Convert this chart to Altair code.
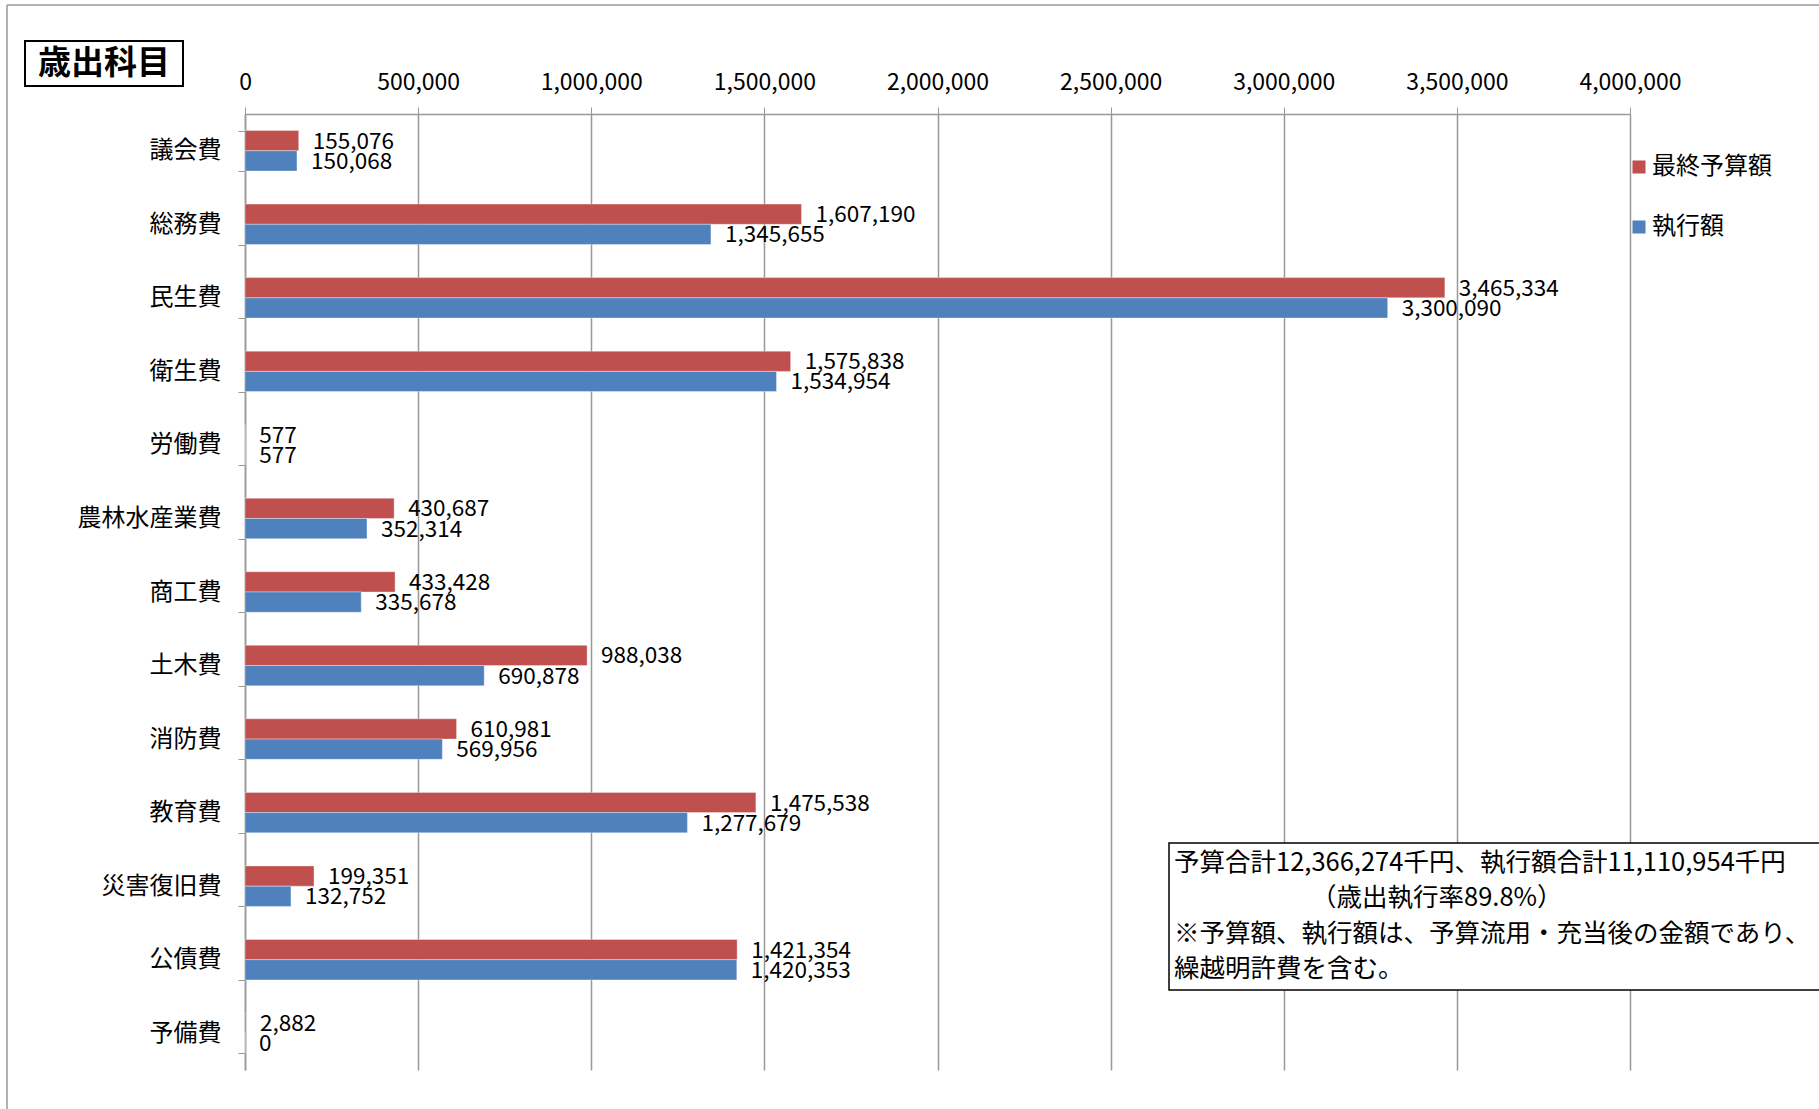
import altair as alt
import pandas as pd

categories = ["議会費", "総務費", "民生費", "衛生費", "労働費", "農林水産業費", "商工費",
              "土木費", "消防費", "教育費", "災害復旧費", "公債費", "予備費"]
budget = [155076, 1607190, 3465334, 1575838, 577, 430687, 433428,
          988038, 610981, 1475538, 199351, 1421354, 2882]
executed = [150068, 1345655, 3300090, 1534954, 577, 352314, 335678,
            690878, 569956, 1277679, 132752, 1420353, 0]
series = ["最終予算額", "執行額"]
colors = ["#C0504D", "#4F81BD"]
x_ticks = [0, 500000, 1000000, 1500000, 2000000, 2500000, 3000000, 3500000, 4000000]
chart_title = "歳出科目"
note_lines = [
    "予算合計12,366,274千円、執行額合計11,110,954千円",
    "（歳出執行率89.8%）",
    "※予算額、執行額は、予算流用・充当後の金額であり、",
    "繰越明許費を含む。",
]

FONT = "Noto Sans CJK JP"

rows = []
for c, b, e in zip(categories, budget, executed):
    rows.append({"cat": c, "series": series[0], "value": b})
    rows.append({"cat": c, "series": series[1], "value": e})
df = pd.DataFrame(rows)

base = alt.Chart(df)

y_enc = alt.Y("cat:N", sort=categories,
              scale=alt.Scale(paddingInner=0.45, paddingOuter=0.225),
              axis=alt.Axis(title=None, labelFont=FONT, labelFontSize=24, labelColor="#000",
                            labelPadding=17, tickBand="extent", tickSize=7,
                            tickColor="#999", domainColor="#999", domainWidth=1.5))
yoff = alt.YOffset("series:N", sort=series)

bars = base.mark_bar(stroke="white", strokeOpacity=0.35, strokeWidth=1).encode(
    x=alt.X("value:Q", scale=alt.Scale(domain=[0, 4000000], nice=False),
            axis=alt.Axis(orient="top", title=None, values=x_ticks, format=",d",
                          grid=True, gridColor="#999", gridWidth=1.5,
                          domainColor="#999", domainWidth=1.5, tickColor="#999",
                          tickSize=7, labelFont=FONT, labelFontSize=23,
                          labelColor="#000", labelPadding=13, labelFlush=False,
                          labelOverlap=False)),
    y=y_enc,
    yOffset=yoff,
    color=alt.Color("series:N", sort=series,
                    scale=alt.Scale(domain=series, range=colors),
                    legend=alt.Legend(title=None, orient="none", legendX=1382, legendY=41,
                                      symbolType="square", symbolSize=170,
                                      symbolStrokeWidth=0, labelFont=FONT,
                                      labelFontSize=24, labelColor="#000",
                                      rowPadding=36, labelOffset=1)),
)

labels = base.mark_text(align="left", baseline="middle", dx=14, dy=1, font=FONT,
                        fontSize=22.5, color="#000").encode(
    x="value:Q",
    y=alt.Y("cat:N", sort=categories),
    yOffset=yoff,
    text=alt.Text("value:Q", format=","),
)

dummy = pd.DataFrame({"t": [chart_title]})

# outer frame lines
frame_left = alt.Chart(dummy).mark_rule(color="#999", strokeWidth=1.5).encode(
    x=alt.value(-238), y=alt.value(-109), y2=alt.value(1000))
frame_top = alt.Chart(dummy).mark_rule(color="#999", strokeWidth=1.5).encode(
    x=alt.value(-238), x2=alt.value(1600), y=alt.value(-109))

# title box
title_box = alt.Chart(dummy).mark_rect(fill="white", stroke="#000", strokeWidth=2).encode(
    x=alt.value(-220), x2=alt.value(-62), y=alt.value(-73), y2=alt.value(-28))
title_text = alt.Chart(dummy).mark_text(font=FONT, fontSize=33, fontWeight="bold",
                                        color="#000", align="center", baseline="middle").encode(
    x=alt.value(-141), y=alt.value(-50), text="t:N")

# note box
note_box = alt.Chart(dummy).mark_rect(fill="white", stroke="#000", strokeWidth=1.5).encode(
    x=alt.value(924), x2=alt.value(1600), y=alt.value(729), y2=alt.value(876))
note_layers = []
note_x = [929, 1066, 929, 929]
note_y = [749, 784, 820, 855]
for line, nx, ny in zip(note_lines, note_x, note_y):
    note_layers.append(
        alt.Chart(pd.DataFrame({"t": [line]})).mark_text(
            font=FONT, fontSize=25.5, color="#000", align="left", baseline="middle").encode(
            x=alt.value(nx), y=alt.value(ny), text="t:N"))

chart = alt.layer(frame_left, frame_top, bars, labels, title_box, title_text, note_box,
                  *note_layers).properties(
    width=1385, height=956,
    autosize=alt.AutoSizeParams(type="none"),
    padding={"left": 245, "top": 114, "right": 189, "bottom": 39},
    background="white",
).configure_view(stroke=None)

chart.save("out.html", embed_options={"renderer": "svg", "actions": False})
